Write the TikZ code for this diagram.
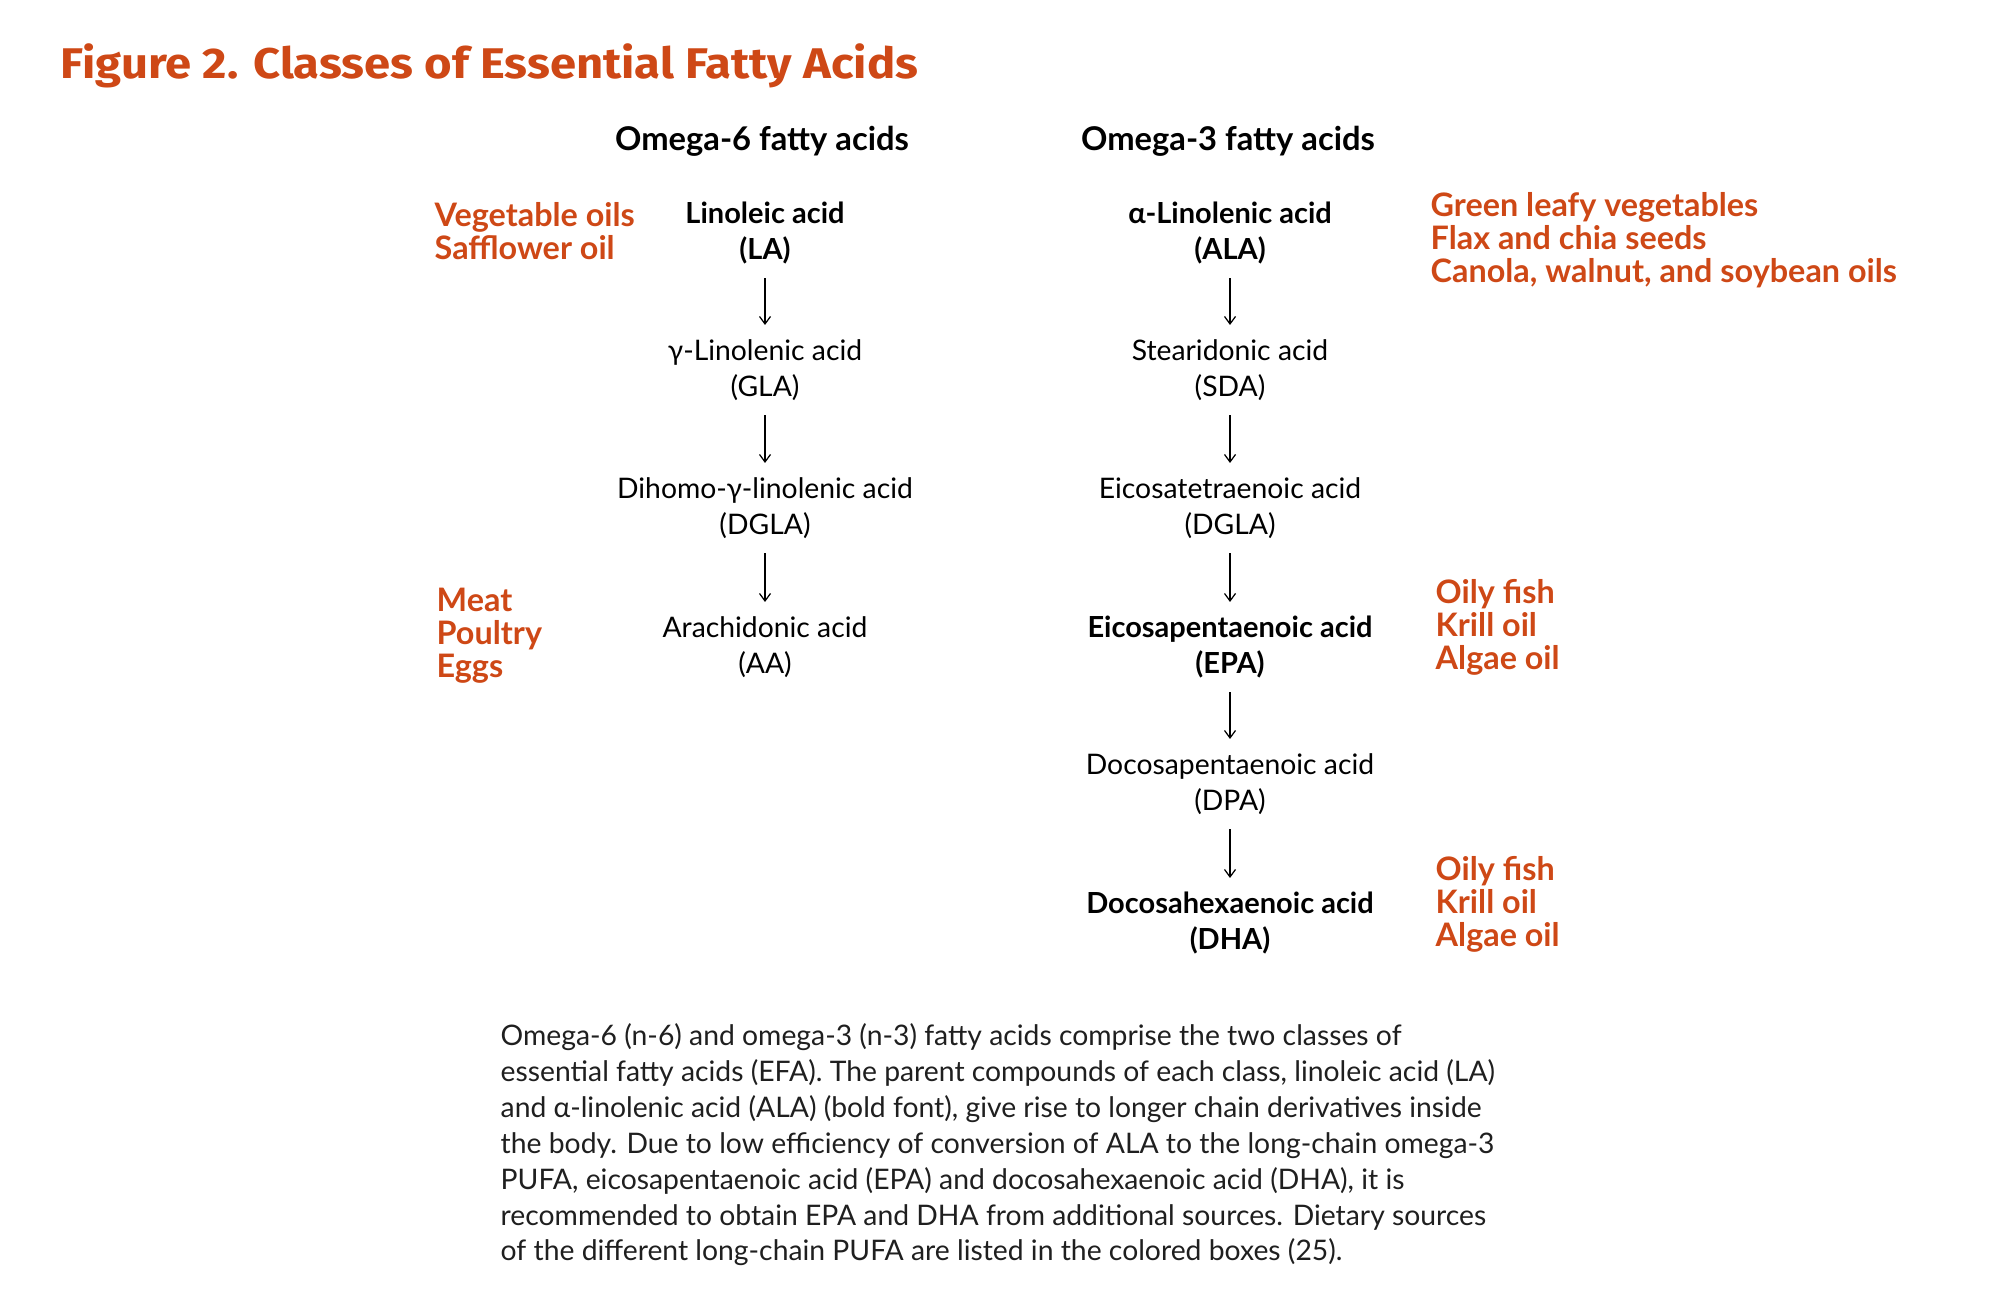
\documentclass[tikz,border=0pt]{standalone}
\usepackage{fontspec}
\setmainfont{Lato}
\newfontfamily\titlefont[FakeStretch=1.1]{Fira Sans}
\usetikzlibrary{arrows.meta}
\definecolor{fattyorange}{RGB}{206,72,22}
\newcommand{\sixx}{765}
\newcommand{\threex}{1230}
\tikzset{
  acid/.style={align=center, inner sep=0pt, font=\fontsize{8.05}{10.15}\selectfont},
  parentacid/.style={acid, font=\fontsize{8.25}{10.15}\selectfont\bfseries},
  foods/.style={anchor=west, align=left, inner sep=0pt, text=fattyorange,
    font=\fontsize{9.2}{9.4}\selectfont\bfseries},
  colhead/.style={inner sep=0pt, font=\fontsize{9.3}{10}\selectfont\bfseries},
  conv/.style={-{Straight Barb[length=0.75mm,width=1.1mm]}, line width=0.35pt,
    shorten <=0.45cm, shorten >=0.45cm}
}

\begin{document}
\begin{tikzpicture}[x=0.01cm, y=-0.01cm]
\useasboundingbox (0,0) rectangle (2000,1302);
\node [anchor=base west, inner sep=0pt, text=fattyorange, font=\titlefont\fontsize{12.2}{14}\selectfont\bfseries] (title) at (60,78) {Figure 2. Classes of Essential Fatty Acids};

\node [colhead] (omegasix) at (762,141) {Omega-6 fatty acids};
\node [colhead] (omegathree) at (1228,141) {Omega-3 fatty acids};

% omega-6 chain
\node [parentacid] (la) at (\sixx,233) {Linoleic acid\\(LA)};
\node [acid] (gla) at (\sixx,370) {γ-Linolenic acid\\(GLA)};
\node [acid] (dgla) at (\sixx,508) {Dihomo-γ-linolenic acid\\(DGLA)};
\node [acid] (aa) at (\sixx,647) {Arachidonic acid\\(AA)};

% omega-3 chain
\node [parentacid] (ala) at (\threex,233) {α-Linolenic acid\\(ALA)};
\node [acid] (sda) at (\threex,370) {Stearidonic acid\\(SDA)};
\node [acid] (eta) at (\threex,508) {Eicosatetraenoic acid\\(DGLA)};
\node [parentacid] (epa) at (\threex,647) {Eicosapentaenoic acid\\(EPA)};
\node [acid] (dpa) at (\threex,784) {Docosapentaenoic acid\\(DPA)};
\node [parentacid] (dha) at (\threex,923) {Docosahexaenoic acid\\(DHA)};

\draw [conv] (la.center) -- (gla.center);
\draw [conv] (gla.center) -- (dgla.center);
\draw [conv] (dgla.center) -- (aa.center);
\draw [conv] (ala.center) -- (sda.center);
\draw [conv] (sda.center) -- (eta.center);
\draw [conv] (eta.center) -- (epa.center);
\draw [conv] (epa.center) -- (dpa.center);
\draw [conv] (dpa.center) -- (dha.center);

% dietary sources
\node [foods] (vegoils) at (434,231) {Vegetable oils\\Safflower oil};
\node [foods] (meat) at (436,636) {Meat\\Poultry\\Eggs};
\node [foods] (greens) at (1430,240) {Green leafy vegetables\\Flax and chia seeds\\Canola, walnut, and soybean oils};
\node [foods] (fishepa) at (1435,627) {Oily fish\\Krill oil\\Algae oil};
\node [foods] (fishdha) at (1435,904) {Oily fish\\Krill oil\\Algae oil};

\node [anchor=north west, align=left, inner sep=0pt, text=black!88, font=\fontsize{8.05}{10.2}\selectfont] (caption) at (500,1023) {Omega-6 (n-6) and omega-3 (n-3) fatty acids comprise the two classes of\\
essential fatty acids (EFA). The parent compounds of each class, linoleic acid (LA)\\
and α-linolenic acid (ALA) (bold font), give rise to longer chain derivatives inside\\
the body. Due to low efficiency of conversion of ALA to the long-chain omega-3\\
PUFA, eicosapentaenoic acid (EPA) and docosahexaenoic acid (DHA), it is\\
recommended to obtain EPA and DHA from additional sources. Dietary sources\\
of the different long-chain PUFA are listed in the colored boxes (25).};
\end{tikzpicture}
\end{document}
